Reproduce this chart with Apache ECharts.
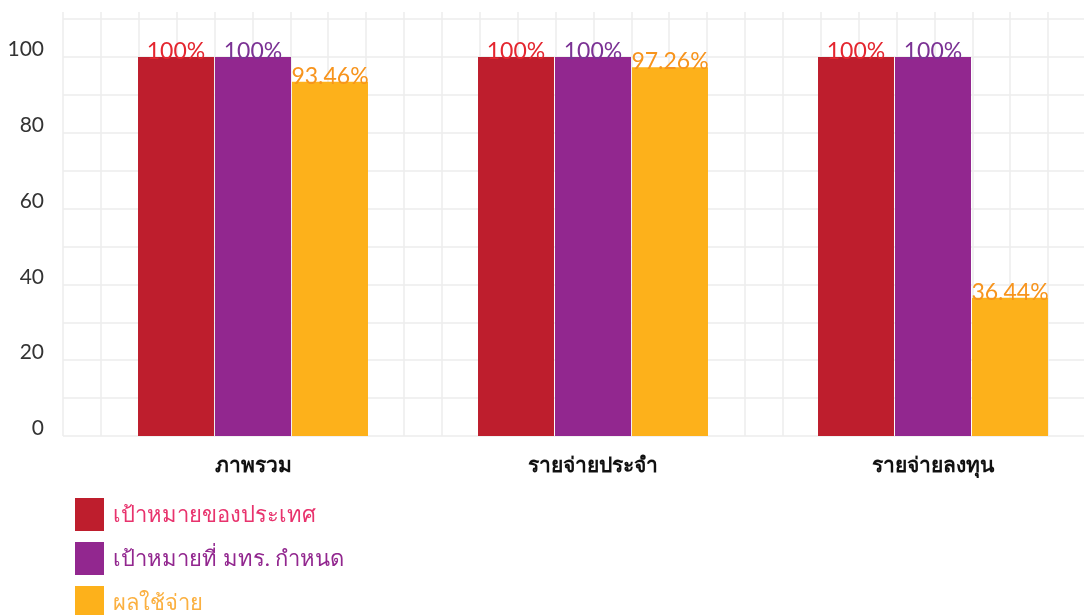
<!DOCTYPE html>
<html>
<head>
<meta charset="utf-8">
<script src="https://cdn.jsdelivr.net/npm/echarts@6/dist/echarts.min.js"></script>
<style>html,body{margin:0;padding:0;background:#fff;}#c{width:1084px;height:615px;}</style>
</head>
<body>
<div id="c"></div>
<script>
const categories = ['ภาพรวม', 'รายจ่ายประจำ', 'รายจ่ายลงทุน'];
const seriesNames = ['เป้าหมายของประเทศ', 'เป้าหมายที่ มทร. กำหนด', 'ผลใช้จ่าย'];
const countryTarget = [100, 100, 100];
const univTarget = [100, 100, 100];
const actualSpend = [93.46, 97.26, 36.44];
const yTicks = [0, 20, 40, 60, 80, 100];

const barColors = ['#BE1E2D', '#92278F', '#FDB11B'];
const labelColors = ['#E4262F', '#7B3294', '#F7941D'];
const legendTextColors = ['#E8336D', '#92278F', '#FBB040'];
const font = 'Lato, "Noto Sans", sans-serif';

const chart = echarts.init(document.getElementById('c'));
const values = [countryTarget, univTarget, actualSpend];

chart.setOption({
  animation: false,
  backgroundColor: '#fff',
  grid: [
    {left: 63, width: 1023, top: 19, bottom: 179, outerBoundsMode: 'none', containLabel: false},
    {left: 83, width: 1020, top: 19, bottom: 179, outerBoundsMode: 'none', containLabel: false},
    {left: 63, width: 1023, top: 12, bottom: 179, outerBoundsMode: 'none', containLabel: false}
  ],
  xAxis: [
    {gridIndex: 0, type: 'value', show: false, min: 0, max: 27},
    {gridIndex: 1, type: 'category', data: categories,
      axisLine: {show: false}, axisTick: {show: false},
      axisLabel: {margin: 19, fontSize: 21, fontWeight: 'bold', color: '#111', fontFamily: font}},
    {gridIndex: 2, type: 'value', min: 0, max: 27, interval: 1,
      axisLine: {show: false}, axisTick: {show: false}, axisLabel: {show: false},
      splitLine: {show: true, lineStyle: {color: '#ececec', width: 1.5}}}
  ],
  yAxis: [
    {gridIndex: 0, type: 'value', min: 0, max: 110, interval: 10,
      axisLine: {show: false}, axisTick: {show: false},
      axisLabel: {margin: 19, fontSize: 21, color: '#333', fontFamily: font,
        verticalAlign: 'bottom', lineHeight: 15,
        formatter: v => yTicks.indexOf(v) >= 0 ? String(v) : ''},
      splitLine: {show: true, lineStyle: {color: '#ececec', width: 1.5}}},
    {gridIndex: 1, type: 'value', min: 0, max: 110, show: false, splitLine: {show: false}},
    {gridIndex: 2, type: 'value', min: 0, max: 110, show: false, splitLine: {show: false}}
  ],
  legend: {
    orient: 'vertical', left: 75, top: 498, height: 200, padding: 0,
    itemWidth: 29, itemHeight: 33, itemGap: 11, icon: 'rect',
    textStyle: {fontSize: 22, fontFamily: font, padding: [0, 0, 0, 4]},
    data: seriesNames.map((n, i) => ({name: n, textStyle: {color: legendTextColors[i]}}))
  },
  series: seriesNames.map((n, i) => ({
    name: n, type: 'bar', xAxisIndex: 1, yAxisIndex: 1,
    data: values[i], barWidth: 76, barGap: '1.3%',
    itemStyle: {color: barColors[i]},
    label: {show: true, position: 'top', distance: -6, fontSize: 23,
      fontFamily: font, color: labelColors[i], formatter: p => p.value + '%'}
  }))
});
</script>
</body>
</html>
